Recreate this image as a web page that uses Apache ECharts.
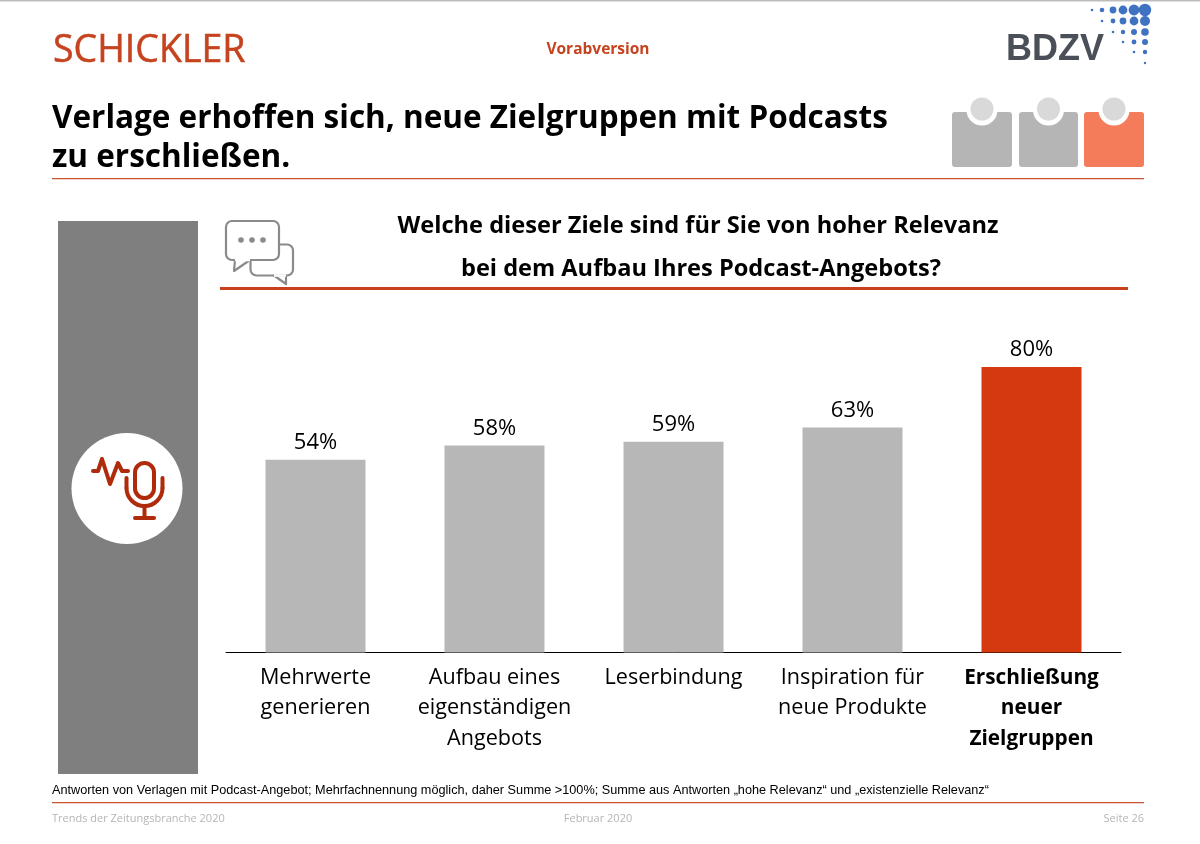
<!DOCTYPE html>
<html>
<head>
<meta charset="utf-8">
<title>Podcast-Ziele</title>
<script src="https://cdn.jsdelivr.net/npm/echarts@6/dist/echarts.min.js"></script>
<style>
html, body { margin: 0; padding: 0; background: #fff; }
#chart { width: 1200px; height: 844px; }
</style>
</head>
<body>
<div id="chart"></div>
<script>
var categories = ["Mehrwerte\ngenerieren", "Aufbau eines\neigenständigen\nAngebots", "Leserbindung", "Inspiration für\nneue Produkte", "Erschließung\nneuer\nZielgruppen"];
var values = [54, 58, 59, 63, 80];
var highlightIndex = 4;

var GREY_BAR = "#b7b7b7";
var RED_BAR = "#d5390f";
var RULE = "#c8502c";
var FONT = "'Open Sans', 'Noto Sans', sans-serif";

function text(x, y, str, size, color, weight, family, align) {
    return {
        type: "text", x: x, y: y,
        style: { text: str, fontSize: size, fill: color, fontWeight: weight || "normal", fontFamily: family || FONT, align: align || "left", verticalAlign: "middle", lineHeight: size * 1.3 }
    };
}
function rect(x, y, w, h, color, r) {
    return { type: "rect", shape: { x: x, y: y, width: w, height: h, r: r || 0 }, style: { fill: color } };
}
function circle(cx, cy, r, color) {
    return { type: "circle", shape: { cx: cx, cy: cy, r: r }, style: { fill: color } };
}
function stroke(points, color, width) {
    return { type: "polyline", shape: { points: points }, style: { stroke: color, lineWidth: width, fill: null, lineJoin: "round", lineCap: "round" } };
}

var deco = [];

// Kopfzeile
deco.push(rect(0, 0, 1200, 1.5, "#bdbdbd"));
var logoText = text(53, 51, "SCHICKLER", 37.5, "#c5431f");
logoText.style.stroke = "#c5431f";
logoText.style.lineWidth = 0.5;
deco.push(logoText);
deco.push(text(598, 49.5, "Vorabversion", 15.5, "#c5431f", "bold", FONT, "center"));
deco.push(text(1006, 50, "BDZV", 36, "#4b5058", "bold", "'Liberation Sans', sans-serif"));

// Logo Punkte
var dotCols = [1092, 1102, 1113, 1123, 1134, 1145];
var dotRows = [
    { y: 10, r: [1.3, 2.3, 3.4, 4.4, 5.4, 6.2] },
    { y: 21, r: [0, 1.3, 2.4, 3.4, 4.4, 5] },
    { y: 32, r: [0, 0, 1.3, 2.2, 3, 3.8] },
    { y: 42, r: [0, 0, 0, 1.3, 2.4, 3] },
    { y: 52, r: [0, 0, 0, 0, 1.3, 2.2] },
    { y: 63, r: [0, 0, 0, 0, 0, 1.2] }
];
dotRows.forEach(function (row) {
    row.r.forEach(function (r, i) {
        if (r > 0) deco.push(circle(dotCols[i], row.y, r, "#3f72c0"));
    });
});

// Titel
deco.push(text(52, 119, "Verlage erhoffen sich, neue Zielgruppen mit Podcasts", 31.5, "#000", "bold"));
deco.push(text(52, 158, "zu erschließen.", 31.5, "#000", "bold"));
deco.push(rect(52, 178, 1092, 1.2, RULE));

// Fortschritt Kacheln
[[952, 60, "#b5b5b5"], [1019, 59, "#b5b5b5"], [1084, 60, "#f47c5a"]].forEach(function (t) {
    deco.push(rect(t[0], 112, t[1], 55, t[2], 3));
    deco.push(circle(t[0] + t[1] / 2, 110, 15.5, "#fff"));
    deco.push(circle(t[0] + t[1] / 2, 109, 11.5, "#d9d9d9"));
});

// linke Leiste mit Mikrofon
deco.push(rect(58, 221, 140, 553, "#7f7f7f"));
deco.push(circle(127, 488.5, 55.5, "#fff"));
var MIC = "#b02a0c";
deco.push(stroke([[93, 471], [98, 471], [102, 459], [110, 484], [118, 463], [122, 471], [128, 471]], MIC, 4));
deco.push({ type: "rect", shape: { x: 135, y: 463, width: 19, height: 35, r: 9.5 }, style: { fill: null, stroke: MIC, lineWidth: 4 } });
deco.push({ type: "arc", shape: { cx: 144.5, cy: 488, r: 18, startAngle: 0, endAngle: Math.PI, clockwise: true }, style: { stroke: MIC, lineWidth: 4, fill: null, lineCap: "round" } });
deco.push(stroke([[126.5, 488], [126.5, 478]], MIC, 4));
deco.push(stroke([[162.5, 488], [162.5, 478]], MIC, 4));
deco.push(stroke([[144.5, 506], [144.5, 518]], MIC, 4));
deco.push(stroke([[135, 518], [154, 518]], MIC, 4));

// Sprechblasen
var BUBBLE = "#8a8a8a";
function bubble(x, y, w, h, tail) {
    deco.push({ type: "rect", shape: { x: x, y: y, width: w, height: h, r: 6 }, style: { fill: "#fff", stroke: BUBBLE, lineWidth: 2.2 } });
    deco.push({ type: "polygon", shape: { points: tail }, style: { fill: "#fff", stroke: BUBBLE, lineWidth: 2.2, lineJoin: "round" } });
    deco.push({ type: "line", shape: { x1: tail[0][0], y1: tail[0][1], x2: tail[2][0], y2: tail[2][1] }, style: { stroke: "#fff", lineWidth: 2.6 } });
}
bubble(250.5, 244.5, 42.5, 31, [[274, 275.5], [286, 284], [286, 275.5]]);
bubble(226, 221, 53, 39, [[235, 260], [234, 271], [250, 260]]);
deco.push(circle(241, 240, 2.8, BUBBLE));
deco.push(circle(252, 240, 2.8, BUBBLE));
deco.push(circle(263, 240, 2.8, BUBBLE));

// Frage
deco.push(text(698, 226, "Welche dieser Ziele sind für Sie von hoher Relevanz", 23.6, "#000", "bold", FONT, "center"));
deco.push(text(701, 269, "bei dem Aufbau Ihres Podcast-Angebots?", 23.6, "#000", "bold", FONT, "center"));
deco.push(rect(220, 287, 908, 3, "#c8401c"));

// Fusszeile
deco.push(text(52, 790, "Antworten von Verlagen mit Podcast-Angebot; Mehrfachnennung möglich, daher Summe >100%; Summe aus Antworten „hohe Relevanz“ und „existenzielle Relevanz“", 12.7, "#000", "normal", "'Liberation Sans', sans-serif"));
deco.push(rect(52, 802, 1092, 1.2, RULE));
deco.push(text(52, 819, "Trends der Zeitungsbranche 2020", 11, "#b5b5b5"));
deco.push(text(598, 819, "Februar 2020", 11, "#b5b5b5", "normal", FONT, "center"));
deco.push(text(1144, 819, "Seite 26", 11, "#b5b5b5", "normal", FONT, "right"));

var chart = echarts.init(document.getElementById("chart"), null, { renderer: "canvas" });
chart.setOption({
    animation: false,
    backgroundColor: "#fff",
    grid: { left: 226, top: 295.5, width: 895, height: 357 },
    xAxis: {
        type: "category",
        data: categories.map(function (c, i) {
            return i === highlightIndex ? { value: c, textStyle: { fontWeight: "bold", fontSize: 20.8 } } : c;
        }),
        axisTick: { show: false },
        axisLine: { lineStyle: { color: "#000", width: 1 } },
        axisLabel: { interval: 0, color: "#000", fontFamily: FONT, fontSize: 21.6, lineHeight: 30.5, margin: 10, verticalAlign: "top" }
    },
    yAxis: { type: "value", min: 0, max: 100, show: false, splitLine: { show: false } },
    series: [{
        type: "bar",
        barWidth: 100,
        data: values.map(function (v, i) {
            return { value: v, itemStyle: { color: i === highlightIndex ? RED_BAR : GREY_BAR } };
        }),
        label: { show: true, position: "top", distance: 6, color: "#000", fontFamily: FONT, fontSize: 22, formatter: "{c}%" }
    }],
    graphic: { elements: deco }
});
</script>
</body>
</html>
